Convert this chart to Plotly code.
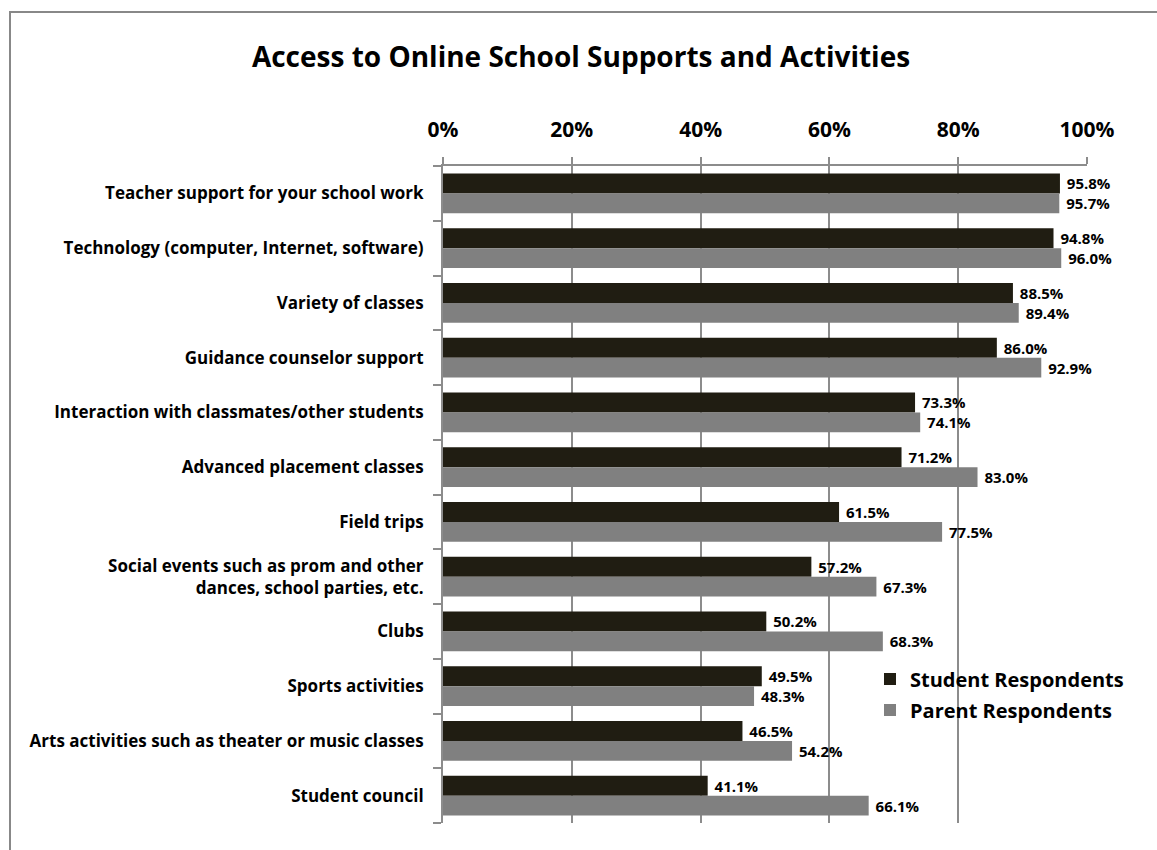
import plotly.graph_objects as go

categories = [
    "Teacher support for your school work",
    "Technology (computer, Internet, software)",
    "Variety of classes",
    "Guidance counselor support",
    "Interaction with classmates/other students",
    "Advanced placement classes",
    "Field trips",
    "Social events such as prom and other<br>dances, school parties, etc.",
    "Clubs",
    "Sports activities",
    "Arts activities such as theater or music classes",
    "Student council",
]
student = [95.8, 94.8, 88.5, 86.0, 73.3, 71.2, 61.5, 57.2, 50.2, 49.5, 46.5, 41.1]
parent = [95.7, 96.0, 89.4, 92.9, 74.1, 83.0, 77.5, 67.3, 68.3, 48.3, 54.2, 66.1]
tick_vals = [0, 20, 40, 60, 80, 100]
tick_text = ["0%", "20%", "40%", "60%", "80%", "100%"]

FONT = "Open Sans"
GRID = "#8c8c8c"

W, H = 1157, 850
L, R, T, B = 443, 1087, 166, 823

fig = go.Figure()
fig.add_trace(go.Bar(
    y=categories, x=student, orientation="h", name="<b>Student Respondents</b>",
    marker=dict(color="#201d12", line=dict(width=0)),
    text=[f"<b>\u00a0{v:.1f}%</b>" for v in student], textposition="outside",
    textfont=dict(family=FONT, size=15, color="#000"), cliponaxis=False,
    constraintext="none", legend="legend",
))
fig.add_trace(go.Bar(
    y=categories, x=parent, orientation="h", name="<b>Parent Respondents</b>",
    marker=dict(color="#808080", line=dict(width=0)),
    text=[f"<b>\u00a0{v:.1f}%</b>" for v in parent], textposition="outside",
    textfont=dict(family=FONT, size=15, color="#000"), cliponaxis=False,
    constraintext="none", legend="legend2",
))

leg_common = dict(xanchor="left", yanchor="middle",
                  font=dict(family=FONT, size=20, color="#000"),
                  bgcolor="rgba(0,0,0,0)", itemwidth=30)

fig.update_layout(
    width=W, height=H,
    margin=dict(l=L, r=W - R, t=T, b=H - B),
    barmode="group", bargap=0.27, bargroupgap=0,
    paper_bgcolor="white", plot_bgcolor="white",
    font=dict(family=FONT, color="#000"),
    title=dict(text="<b>Access to Online School Supports and Activities</b>",
               x=581 / W, xanchor="center", y=1 - 57 / H, yanchor="middle",
               font=dict(family=FONT, size=28, color="#000")),
    xaxis=dict(side="top", range=[0, 100], tickvals=tick_vals,
               ticktext=[f"<b>{t}</b>" for t in tick_text],
               showgrid=True, gridcolor=GRID, gridwidth=2,
               showline=True, linecolor=GRID, linewidth=2,
               ticks="outside", ticklen=7, tickcolor=GRID, tickwidth=2,
               tickfont=dict(family=FONT, size=21, color="#000"),
               ticklabelstandoff=12,
               zeroline=False, fixedrange=True),
    yaxis=dict(autorange="reversed", showline=True, linecolor=GRID, linewidth=2,
               ticks="outside", ticklen=8, tickcolor=GRID, tickwidth=2,
               tickson="boundaries", showgrid=False,
               tickvals=categories, ticktext=[f"<b>{c}</b>" for c in categories],
               tickfont=dict(family=FONT, size=17, color="#000"),
               ticklabelstandoff=14),
    legend=dict(x=(870 - L) / (R - L), y=(B - 679) / (B - T), **leg_common),
    legend2=dict(x=(870 - L) / (R - L), y=(B - 710) / (B - T), **leg_common),
    showlegend=True,
    shapes=[dict(type="rect", xref="paper", yref="paper",
                 x0=(10 - L) / (R - L), x1=(1170 - L) / (R - L),
                 y0=(B - 870) / (B - T), y1=(B - 12) / (B - T),
                 line=dict(color="#888888", width=2), layer="below")],
)

fig.write_html("out.html")
